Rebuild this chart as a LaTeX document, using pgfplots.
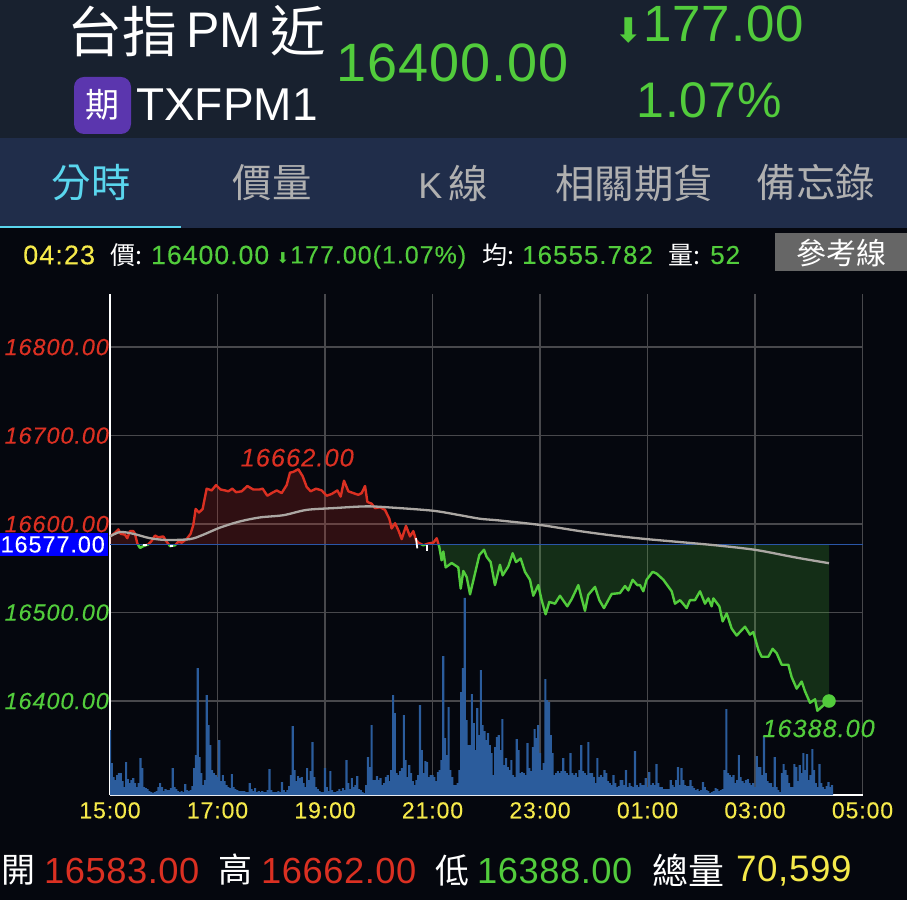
\documentclass[border=0pt]{standalone}
\usepackage{pgfplots}
\usepackage{pgfplotstable}
\usepackage{fontspec}
\pgfplotsset{compat=1.18}
\setmainfont{Liberation Sans}
\newfontfamily\cjk{Noto Sans CJK TC}
\newfontfamily\ls[LetterSpace=4,FakeBold=0.2]{Liberation Sans}
\newfontfamily\lsc[LetterSpace=1.5]{Liberation Sans}
\newfontfamily\lsb[LetterSpace=2]{Liberation Sans}
\newfontfamily\djf{DejaVu Sans}
\newcommand{\fs}[1]{\fontsize{#1}{#1}\selectfont}
\definecolor{bgc}{HTML}{05070E}
\definecolor{headc}{HTML}{18212F}
\definecolor{tabc}{HTML}{202D4A}
\definecolor{cyanc}{HTML}{5AD6EE}
\definecolor{tabgrey}{HTML}{B0B0B0}
\definecolor{redc}{HTML}{DB3022}
\definecolor{greenc}{HTML}{52CC3C}
\definecolor{yellowc}{HTML}{F5E94A}
\definecolor{barc}{HTML}{2B5C9C}
\definecolor{gridc}{HTML}{48484C}
\definecolor{basec}{HTML}{2A56A8}
\definecolor{avgc}{HTML}{ABA7A3}
\definecolor{purplec}{HTML}{5B36AE}
\definecolor{boxgrey}{HTML}{666666}

\pgfplotstableread{
x y
0 16586
5.6 16590
9.3 16594
11.9 16589
16.7 16588
19.3 16584
22.3 16592
26.0 16592
27.9 16589
30.5 16578
33.5 16573
37.2 16575
42.8 16577
46.5 16581
50.2 16587
54.0 16585
59.5 16586
63.3 16580
67.0 16575
72.6 16576
76.3 16580
80.0 16579
85.6 16583
90.0 16589
93.0 16599
95.6 16617
99.3 16613
103.4 16617
107.9 16640
113.5 16638
118.3 16644
123.5 16639
128.4 16638
132.1 16637
136.6 16640
140.7 16636
147 16637
153.3 16643
160 16639
166.7 16639
170.4 16640
175.6 16632
180.5 16635
186.1 16638
191.6 16635
197.2 16644
200.9 16658
204.7 16659
210.2 16662
215.1 16654
219.5 16642
224 16637
230 16640
236.3 16638
241.9 16632
247.5 16634
253.8 16638
257.5 16631
261.2 16649
266.1 16637
271.6 16635
277.2 16633
280.9 16635
284.7 16643
287.3 16625
292.1 16623
295.8 16618
301.4 16619
307 16616
311.8 16606
314.4 16595
318.2 16601
321.9 16593
325.6 16583
330.4 16598
334.9 16586
338.6 16592
341.6 16582
344.2 16579
349.8 16576
355.3 16578
361 16579
364.7 16584
367.6 16574
370.2 16559
372.1 16569
374.7 16551
381.4 16556
388.8 16551
391.5 16527
394.4 16547
398.2 16540
401.9 16520.5
407.4 16544
412.3 16565
417.5 16571
420.4 16563
424.9 16557
429.7 16531
435.3 16554
438.3 16542
444.6 16552
449.5 16567
453.2 16557
458.4 16561
463.2 16546
468.8 16537
472.5 16519
478.1 16531
481.8 16514
486.3 16498
490.4 16512
496.7 16510
502.3 16519
510.5 16507
515.3 16515
522.8 16531
526.5 16516
530.2 16502
533.9 16520
541.4 16529
546.2 16514
551.4 16505
560 16521
569.3 16522
574.9 16530
578.6 16525
583.4 16537
588.6 16531
591.6 16531
595.3 16524
599 16537
605.7 16546
610.2 16544
617.7 16537
627 16524
630.7 16510
636.3 16514
643.7 16505
647.4 16514
653 16514
658.6 16524
664.2 16510
667.9 16516
671.6 16507
673.5 16516
680.2 16507
683.9 16490
688.4 16499
693.9 16482
699.5 16474
708.8 16484
714.4 16475
718.1 16478
723.7 16458
727.4 16450
734.9 16450
739.7 16459
744.2 16454
749.8 16441
757.2 16441
760.9 16427
766.5 16414
772.1 16422
775.8 16411
781.4 16398
787 16402
789.6 16389
796.3 16395
802.6 16400
}\price

\pgfplotstableread{
x y
0 16586
11.2 16591
26 16589
44.7 16584
63.3 16582
89.3 16583
104.2 16588
122.8 16596
145.1 16603
167.4 16607.5
193.5 16610
219.5 16616
249.3 16618
286.5 16620
316.3 16618.5
361 16615
390.7 16610
413 16606
435.3 16604
480 16599
524.6 16592
561.8 16587
599 16583
643.7 16579
680.9 16575.5
721.8 16570.6
766.5 16562
802.6 16555.8
}\avgline

\pgfplotstableread[row sep=\\,header=false]{
65\\32\\18\\15\\20\\22\\22\\14\\8\\33\\16\\12\\15\\17\\12\\8\\12\\37\\27\\
8\\7\\6\\4\\3\\2\\3\\4\\8\\12\\8\\4\\6\\5\\5\\7\\27\\8\\6\\
4\\3\\4\\3\\11\\5\\4\\5\\9\\27\\40\\127\\38\\22\\10\\15\\100\\70\\50\\
25\\22\\20\\18\\55\\14\\20\\14\\10\\8\\7\\21\\8\\6\\5\\4\\4\\4\\
4\\3\\3\\12\\6\\4\\7\\3\\4\\3\\4\\3\\3\\5\\26\\5\\3\\3\\3\\
4\\3\\13\\5\\3\\5\\9\\20\\69\\25\\14\\19\\17\\18\\12\\8\\27\\15\\24\\
53\\18\\8\\6\\4\\3\\3\\27\\8\\4\\24\\5\\3\\3\\4\\6\\4\\7\\5\\35\\12\\6\\17\\8\\10\\19\\6\\5\\3\\2\\10\\38\\28\\70\\15\\15\\19\\15\\17\\10\\12\\18\\20\\14\\25\\100\\82\\22\\20\\24\\27\\80\\35\\18\\30\\22\\14\\10\\15\\20\\90\\45\\22\\34\\33\\18\\20\\20\\18\\14\\23\\25\\35\\139\\57\\40\\88\\25\\18\\10\\10\\12\\25\\103\\127\\197\\75\\50\\50\\101\\72\\45\\87\\60\\125\\70\\64\\55\\62\\50\\42\\20\\48\\58\\60\\45\\
76\\30\\37\\28\\25\\35\\20\\18\\56\\45\\22\\23\\22\\20\\52\\27\\24\\48\\66\\57\\70\\42\\25\\32\\116\\95\\93\\60\\42\\20\\22\\24\\22\\24\\37\\24\\22\\20\\42\\22\\20\\22\\18\\25\\50\\24\\22\\20\\53\\22\\22\\18\\12\\37\\18\\20\\18\\25\\22\\14\\12\\10\\20\\12\\8\\9\\15\\15\\10\\25\\8\\12\\9\\8\\44\\10\\8\\12\\10\\10\\17\\8\\23\\10\\12\\10\\31\\12\\8\\8\\6\\6\\6\\6\\15\\10\\8\\15\\28\\10\\27\\15\\10\\9\\9\\15\\9\\7\\5\\6\\4\\5\\13\\8\\5\\4\\2\\3\\4\\7\\6\\4\\5\\6\\25\\86\\22\\20\\18\\20\\12\\15\\40\\18\\14\\12\\15\\16\\12\\10\\12\\8\\39\\28\\28\\20\\59\\22\\14\\12\\12\\8\\38\\8\\5\\3\\22\\31\\25\\20\\12\\8\\8\\31\\28\\14\\30\\22\\42\\25\\41\\15\\20\\46\\25\\12\\8\\31\\12\\8\\6\\9\\13\\8\\10\\
}\vol

\pgfplotsset{
  base/.style={scale only axis, width=752.5pt, xmin=0, xmax=840, at={(110pt,105pt)}, anchor=south west},
}

\begin{document}
\begin{tikzpicture}
\useasboundingbox (0,0) rectangle (907pt,900pt);
\fill[bgc] (0,0) rectangle (907pt,900pt);
\begin{scope}[x=1pt,y=-1pt,shift={(0pt,900pt)}]
\fill[headc] (0,0) rectangle (907,138);
\fill[tabc] (0,138) rectangle (907,228);
\fill[cyanc] (0,226) rectangle (181,228.5);
\fill[boxgrey] (775,233) rectangle (907,271);
\fill[purplec,rounded corners=10pt] (74,77) rectangle (131,134);
% header
\node[anchor=west,inner sep=0,text=white] at (67,31) {\cjk\fs{55}台指};
\node[anchor=west,inner sep=0,text=white] at (186,30) {\fs{50}PM};
\node[anchor=west,inner sep=0,text=white] at (270,31) {\cjk\fs{55}近};
\node[inner sep=0,text=white] at (102,105) {\cjk\fs{34}期};
\node[anchor=west,inner sep=0,text=white] at (136,105) {\fs{46}TXFPM1};
\node[anchor=west,inner sep=0,text=greenc] at (336,63) {\lsb\fs{54}16400.00};
\node[inner sep=0,text=greenc] at (629,31) {\djf\fs{34}⬇};
\node[anchor=west,inner sep=0,text=greenc] at (643,24) {\lsb\fs{51}177.00};
\node[anchor=west,inner sep=0,text=greenc] at (636,100) {\lsb\fs{50}1.07\%};
% tabs
\node[inner sep=0,text=cyanc] at (91,183) {\cjk\fs{39.5}分時};
\node[inner sep=0,text=tabgrey] at (272,183) {\cjk\fs{39.5}價量};
\node[inner sep=0,text=tabgrey] at (453,183) {\fs{36}K\,{\cjk\fs{39.5}線}};
\node[inner sep=0,text=tabgrey] at (634,183) {\cjk\fs{39.5}相關期貨};
\node[inner sep=0,text=tabgrey] at (816,183) {\cjk\fs{39.5}備忘錄};
% info row
\node[anchor=west,inner sep=0,text=yellowc] at (23,255) {\ls\fs{27}04:23};
\node[anchor=west,inner sep=0,text=white] at (110,255) {\cjk\fs{25}價:};
\node[anchor=west,inner sep=0,text=greenc] at (151,255) {\ls\fs{26.5}16400.00};
\node[inner sep=0,text=greenc] at (283,258) {\djf\fs{15}⬇};
\node[anchor=west,inner sep=0,text=greenc] at (290,257) {\ls\fs{25}177.00(1.07\%)};
\node[anchor=west,inner sep=0,text=white] at (482,255) {\cjk\fs{25}均:};
\node[anchor=west,inner sep=0,text=greenc] at (522,255) {\ls\fs{25.9}16555.782};
\node[anchor=west,inner sep=0,text=white] at (668,255) {\cjk\fs{25}量:};
\node[anchor=west,inner sep=0,text=greenc] at (710,255) {\ls\fs{26}52};
\node[inner sep=0,text=white] at (841,253) {\cjk\fs{30}參考線};
% bottom row
\node[anchor=west,inner sep=0,text=white] at (1,870) {\cjk\fs{34}開};
\node[anchor=west,inner sep=0,text=redc] at (44,871) {\lsc\fs{36.3}16583.00};
\node[anchor=west,inner sep=0,text=white] at (218,870) {\cjk\fs{34}高};
\node[anchor=west,inner sep=0,text=redc] at (261,871) {\lsc\fs{36.3}16662.00};
\node[anchor=west,inner sep=0,text=white] at (435,870) {\cjk\fs{34}低};
\node[anchor=west,inner sep=0,text=greenc] at (477,871) {\lsc\fs{36.3}16388.00};
\node[anchor=west,inner sep=0,text=white] at (652,870) {\cjk\fs{36}總量};
\node[anchor=west,inner sep=0,text=yellowc] at (736,871) {\lsc\fs{36.8}70,599};
\end{scope}

% grid and tick labels
\begin{axis}[base, height=501pt, ymin=16293.8, ymax=16860,
  axis x line=bottom, axis y line=left,
  axis line style={white,line width=1.2pt,-},
  major tick length=0pt,
  scaled y ticks=false,
  xtick={0,120,240,360,480,600,720,840},
  xticklabels={15:00,17:00,19:00,21:00,23:00,01:00,03:00,05:00},
  ytick={16400,16500,16600,16700,16800},
  yticklabels={\textcolor{greenc}{16400.00},\textcolor{greenc}{16500.00},\textcolor{redc}{16600.00},\textcolor{redc}{16700.00},\textcolor{redc}{16800.00}},
  grid=major,
  grid style={gridc,line width=1.2pt},
  xticklabel style={text=yellowc,font=\ls\fs{23},inner sep=0pt,yshift=-7pt},
  yticklabel style={font=\ls\itshape\fs{23.4},inner sep=0pt,anchor=east,xshift=-1pt},
  extra y ticks={16577},
  extra y tick labels={16577.00},
  extra y tick style={grid=none,yticklabel style={fill=blue,text=white,font=\ls\fs{23.4},inner xsep=3pt,inner ysep=3.5pt,xshift=-1pt}},
]
\end{axis}

% volume bars
\begin{axis}[base, height=501pt, ymin=0, ymax=501, hide axis]
\addplot[ybar, bar width=2.1pt, fill=barc, draw=none] table[x expr=\coordindex*2, y index=0] {\vol};
\end{axis}

% price above the reference
\begin{axis}[scale only axis, width=752.5pt, xmin=0, xmax=840, at={(110pt,355.6pt)}, anchor=south west, height=250.4pt, ymin=16577, ymax=16860, hide axis]
\addplot[fill=redc, fill opacity=0.2, draw=none] table[x=x,y=y] {\price} -- (axis cs:802.6,16577) -- (axis cs:0,16577) -- cycle;
\addplot[redc, line width=2.4pt, line join=round] table[x=x,y=y] {\price};
\end{axis}

% price below the reference
\begin{axis}[scale only axis, width=752.5pt, xmin=0, xmax=840, at={(110pt,105pt)}, anchor=south west, height=250.6pt, ymin=16293.8, ymax=16577, hide axis]
\addplot[fill=greenc, fill opacity=0.2, draw=none] table[x=x,y=y] {\price} -- (axis cs:802.6,16577) -- (axis cs:0,16577) -- cycle;
\addplot[greenc, line width=2.4pt, line join=round] table[x=x,y=y] {\price};
\end{axis}

% average, reference, last point
\begin{axis}[base, height=501pt, ymin=16293.8, ymax=16860, hide axis, clip=false]
\addplot[basec, line width=1.4pt] coordinates {(0,16577) (840,16577)};
\addplot[white, line width=1.8pt] coordinates {(341.6,16584) (343,16572.5)};
\addplot[white, line width=1.8pt] coordinates {(353.5,16576) (353.5,16570)};
\addplot[white, line width=1.6pt] coordinates {(37,16576) (41,16576)};
\addplot[white, line width=1.6pt] coordinates {(67,16575) (70,16575)};
\addplot[avgc, line width=2.3pt, smooth] table[x=x,y=y] {\avgline};
\addplot[only marks, mark=*, mark size=6.5pt, greenc] coordinates {(802.6,16400)};
\node[text=redc, inner sep=0] at (axis cs:209,16664.6) [anchor=south] {\ls\itshape\fs{25.4}16662.00};
\node[text=greenc, inner sep=0] at (axis cs:791,16369) {\ls\itshape\fs{25.2}16388.00};
\end{axis}
\end{tikzpicture}
\end{document}
